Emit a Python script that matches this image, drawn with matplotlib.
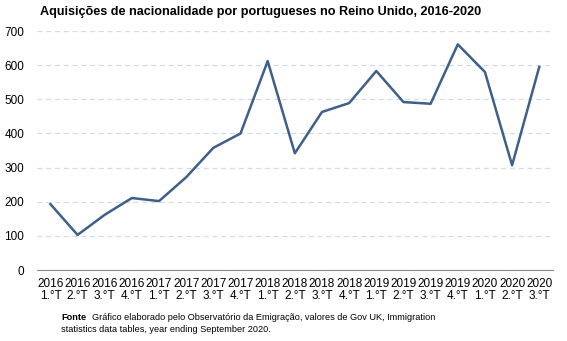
import matplotlib.pyplot as plt

plt.rcParams['font.family'] = ['Liberation Sans', 'DejaVu Sans']

anos = ['2016'] * 4 + ['2017'] * 4 + ['2018'] * 4 + ['2019'] * 4 + ['2020'] * 3
trimestres = ['1.°T', '2.°T', '3.°T', '4.°T'] * 4 + ['1.°T', '2.°T', '3.°T']
aquisicoes = [193, 103, 162, 211, 202, 272, 358, 400, 612, 342,
              463, 489, 583, 492, 487, 661, 580, 307, 595]

labels = [f'{a}\n{t}' for a, t in zip(anos, trimestres)]
x = list(range(len(aquisicoes)))

fig = plt.figure(figsize=(5.67, 3.41), dpi=100)
ax = fig.add_axes([0.065, 0.208, 0.91, 0.701])

ax.plot(x, aquisicoes, color='#3e5f8a', lw=1.8)

ax.set_xlim(-0.5, len(x) - 0.5)
ax.set_ylim(0, 700)
ax.set_yticks(range(0, 701, 100))
ax.set_xticks(x)
ax.set_xticklabels(labels, fontsize=8.5, linespacing=1.0)
ax.tick_params(axis='y', labelsize=8.5, length=0, pad=9)
ax.tick_params(axis='x', length=0, pad=6)
ax.yaxis.grid(True, ls=(0, (4, 3)), color='#d5dbe3', lw=0.9)
ax.set_axisbelow(True)
for s in ['top', 'right', 'left']:
    ax.spines[s].set_visible(False)
ax.spines['bottom'].set_color('#8c8c8c')

fig.text(0.071, 0.965, 'Aquisições de nacionalidade por portugueses no Reino Unido, 2016-2020',
         fontsize=9.1, fontweight='bold', va='center')

fig.text(0.108, 0.07, 'Fonte', fontsize=6.6, fontweight='bold', va='center')
fig.text(0.162, 0.07, 'Gráfico elaborado pelo Observatório da Emigração, valores de Gov UK, Immigration',
         fontsize=6.6, va='center')
fig.text(0.108, 0.035, 'statistics data tables, year ending September 2020.', fontsize=6.6, va='center')

fig.savefig('out.png', dpi=100)
